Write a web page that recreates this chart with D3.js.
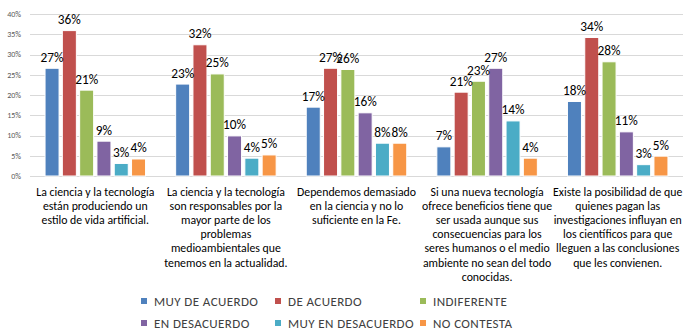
<!DOCTYPE html>
<html><head><meta charset="utf-8">
<script src="https://cdn.jsdelivr.net/npm/d3@7"></script>
<style>body{margin:0;background:#fff}svg{display:block}</style>
</head><body><svg id="c" width="691" height="333"></svg>
<script>
const categories = [
 "La ciencia y la tecnología\nestán produciendo un\nestilo de vida artificial.",
 "La ciencia y la tecnología\nson responsables por la\nmayor parte de los\nproblemas\nmedioambientales que\ntenemos en la actualidad.",
 "Dependemos demasiado\nen la ciencia y no lo\nsuficiente en la Fe.",
 "Si una nueva tecnología\nofrece beneficios tiene que\nser usada aunque sus\nconsecuencias para los\nseres humanos o el medio\nambiente no sean del todo\nconocidas.",
 "Existe la posibilidad de que\nquienes pagan las\ninvestigaciones influyan en\nlos científicos para que\nlleguen a las conclusiones\nque les convienen."
];
const seriesNames = ["MUY DE ACUERDO","DE ACUERDO","INDIFERENTE","EN DESACUERDO","MUY EN DESACUERDO","NO CONTESTA"];
const muyDeAcuerdo   = [26.6, 22.7, 17.0, 7.2, 18.4];
const deAcuerdo      = [35.9, 32.4, 26.6, 20.7, 34.2];
const indiferente    = [21.2, 25.2, 26.3, 23.4, 28.2];
const enDesacuerdo   = [8.6, 9.9, 15.6, 26.6, 10.9];
const muyEnDesacuerdo= [3.1, 4.4, 8.1, 13.6, 2.8];
const noContesta     = [4.2, 5.2, 8.1, 4.4, 4.9];
const yTicks = [0,5,10,15,20,25,30,35,40];
const colors = ["#4F81BD","#C0504D","#9BBB59","#8064A2","#4BACC6","#F79646"];

const series = [muyDeAcuerdo, deAcuerdo, indiferente, enDesacuerdo, muyEnDesacuerdo, noContesta];
const FONT = "Carlito, Calibri, 'Liberation Sans Narrow', 'Liberation Sans', sans-serif";
const svg = d3.select("#c");
const L = 30, R = 683, T = 14, B = 176;
const y = d3.scaleLinear().domain([0,40]).range([B,T]);
const x0 = d3.scaleBand().domain(d3.range(categories.length)).range([L,R]);
const x1 = d3.scaleBand().domain(d3.range(series.length)).range([0,x0.bandwidth()]).paddingInner(0.19).paddingOuter(0.87);

const g = svg.append("g");
g.selectAll("line.grid").data(yTicks).join("line")
 .attr("x1",L).attr("x2",R).attr("y1",d=>Math.round(y(d))+0.5).attr("y2",d=>Math.round(y(d))+0.5)
 .attr("stroke","#D9D9D9").attr("stroke-width",1);
g.selectAll("text.yt").data(yTicks).join("text")
 .attr("x",21).attr("y",d=>y(d)).attr("dy","0.35em").attr("text-anchor","end")
 .attr("font-family",FONT).attr("font-size",8).attr("fill","#595959").text(d=>d+"%");

const groups = g.selectAll("g.cat").data(categories).join("g").attr("transform",(d,i)=>`translate(${x0(i)},0)`);
groups.each(function(c,ci){
  const gg = d3.select(this);
  const vals = series.map((s,si)=>({si, v:s[ci]}));
  gg.selectAll("rect").data(vals).join("rect")
   .attr("x",d=>x1(d.si)).attr("width",x1.bandwidth())
   .attr("y",d=>y(d.v)).attr("height",d=>y(0)-y(d.v))
   .attr("fill",d=>colors[d.si]).attr("stroke","#fff").attr("stroke-width",1);
  gg.selectAll("text.lab").data(vals).join("text")
   .attr("x",d=>x1(d.si)+x1.bandwidth()/2).attr("y",d=>y(d.v)-6.5)
   .attr("text-anchor","middle").attr("font-family",FONT).attr("font-size",13.3).attr("fill","#000")
   .text(d=>Math.round(d.v)+"%");
  const lines = c.split("\n");
  gg.selectAll("text.cl").data(lines).join("text")
   .attr("x",x0.bandwidth()/2).attr("y",(d,i)=>196+i*14.1).attr("text-anchor","middle")
   .attr("font-family",FONT).attr("font-size",11.8).attr("fill","#000").text(d=>d);
});

const legX = [144,278,423], legY = [301,323];
const leg = g.selectAll("g.leg").data(seriesNames).join("g")
 .attr("transform",(d,i)=>`translate(${legX[i%3]},${legY[Math.floor(i/3)]})`);
leg.append("rect").attr("x",-3).attr("y",-3).attr("width",6).attr("height",6).attr("fill",(d,i)=>colors[i]);
leg.append("text").attr("x",10).attr("y",0).attr("dy","0.35em").attr("font-family",FONT).attr("font-size",13)
 .attr("letter-spacing",0.4).attr("fill","#404040").text(d=>d);
</script></body></html>
